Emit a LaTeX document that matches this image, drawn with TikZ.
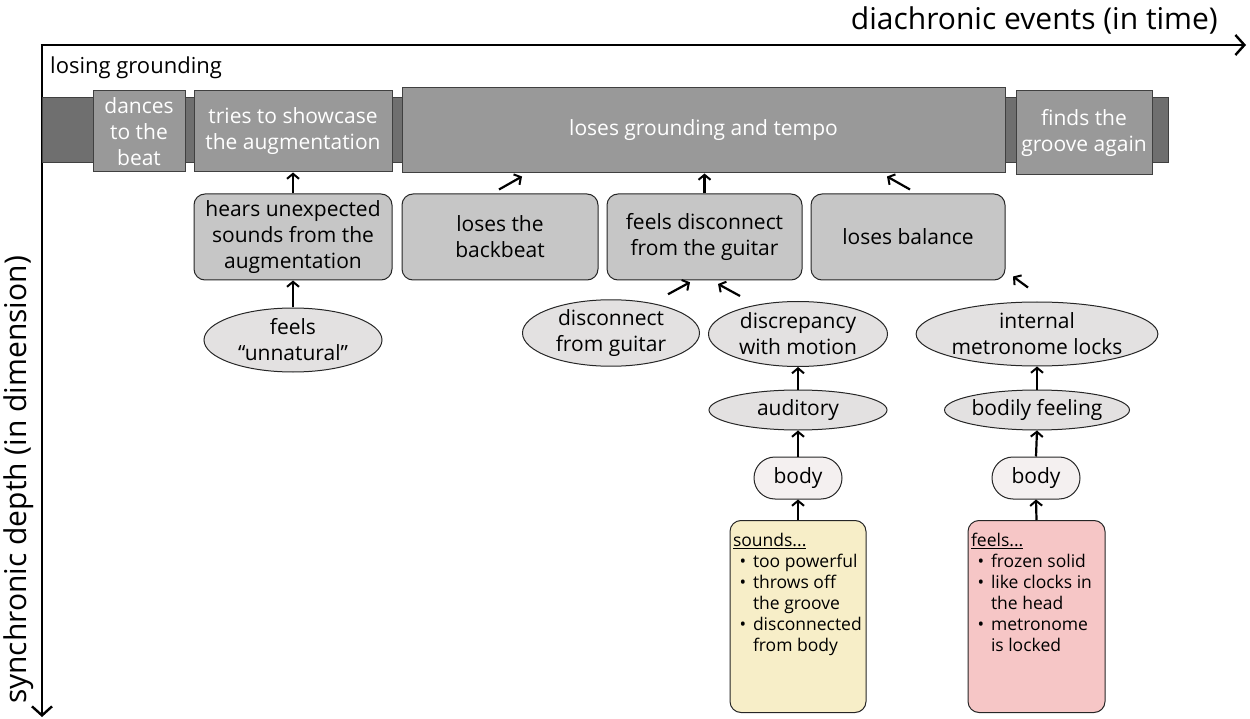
\documentclass[tikz,border=0pt]{standalone}
\usepackage{fontspec}
\setmainfont{Open Sans}
\usetikzlibrary{arrows.meta,shapes.geometric,shapes.misc,calc}
\definecolor{banddark}{HTML}{6F6F6F}
\definecolor{topgray}{HTML}{999999}
\definecolor{midgray}{HTML}{C6C6C6}
\definecolor{ellgray}{HTML}{E3E1E1}
\definecolor{bodyfill}{HTML}{F4F0F0}
\definecolor{yellowbox}{HTML}{F7EEC8}
\definecolor{pinkbox}{HTML}{F6C6C6}
\newcommand{\itm}[1]{\makebox[20pt][c]{\textbullet}#1}
\newcommand{\cnt}[1]{\hspace*{20pt}#1}
\begin{document}
\begin{tikzpicture}[x=1pt,y=-1pt,
  axis/.style={line width=2.6pt,-{Straight Barb[length=9pt,width=20pt,line width=2.4pt]}},
  conn/.style={line width=2.2pt,-{Straight Barb[length=5pt,width=12pt,line width=2pt]}},
  bandstyle/.style={draw=black!75,line width=0.8pt,fill=banddark,inner sep=0pt},
  boxfont/.style={font=\fontsize{21}{26}\selectfont},
  topbox/.style={boxfont,draw=black!75,line width=1pt,fill=topgray,text=white,align=center,inner sep=0pt},
  midbox/.style={boxfont,draw=black!85,line width=1pt,fill=midgray,rounded corners=11pt,align=center,inner sep=0pt},
  ell/.style={boxfont,ellipse,draw=black!85,line width=1pt,fill=ellgray,align=center,inner sep=0pt},
  pill/.style={boxfont,rounded rectangle,draw=black!85,line width=1pt,fill=bodyfill,inner sep=0pt},
  notebox/.style={draw=black!85,line width=1pt,rounded corners=11pt,inner sep=3pt,anchor=north,font=\fontsize{17.5}{21}\selectfont},
  axislabel/.style={font=\fontsize{30}{34}\selectfont,inner sep=0pt}]
\useasboundingbox (0,0) rectangle (1250,719);
% axes
\coordinate (origin) at (42,45);
\coordinate (xend) at (1246,45);
\coordinate (yend) at (42,717);
\draw[axis] ($(origin)+(-1.3,0)$) -- (xend);
\draw[axis] (origin) -- (yend);
\node[axislabel,anchor=east] (xlab) at (1218,20) {diachronic events (in time)};
\node[axislabel,rotate=90] (ylab) at (19,480) {synchronic depth (in dimension)};
\node[anchor=west,inner sep=0pt,font=\fontsize{22}{26}\selectfont] (losing) at (50,68) {losing grounding};
% band and top boxes
\node[bandstyle,minimum width=1126pt,minimum height=65pt] (band) at (605,129.5) {};
\node[topbox,minimum width=92pt,minimum height=81pt] (dances) at (139,131.5) {dances\\to the\\beat};
\node[topbox,minimum width=198pt,minimum height=81pt] (tries) at (293,131.5) {tries to showcase\\the augmentation};
\node[topbox,minimum width=603pt,minimum height=85pt] (tempo) at (703.5,130.5) {loses grounding and tempo};
\node[topbox,minimum width=136pt,minimum height=84pt] (finds) at (1084,133) {finds the\\groove again};
% middle row
\node[midbox,minimum width=198pt,minimum height=86pt] (hears) at (293,237) {hears unexpected\\sounds from the\\augmentation};
\node[midbox,minimum width=196pt,minimum height=86pt] (backbeat) at (500,237) {loses the\\backbeat};
\node[midbox,minimum width=195pt,minimum height=86pt] (disc) at (704.5,237) {feels disconnect\\from the guitar};
\node[midbox,minimum width=194pt,minimum height=86pt] (balance) at (908,237) {loses balance};
% ellipses
\node[ell,minimum width=178pt,minimum height=64pt] (unnatural) at (293,340) {feels\\“unnatural”};
\node[ell,minimum width=177pt,minimum height=65pt] (dguitar) at (611,333) {disconnect\\from guitar};
\node[ell,minimum width=179pt,minimum height=65pt] (discrep) at (798,334) {discrepancy\\with motion};
\node[ell,minimum width=180pt,minimum height=64pt] (metro) at (1037,334) {internal\\metronome locks};
\node[ell,minimum width=178pt,minimum height=40pt] (auditory) at (798,410) {auditory};
\node[ell,minimum width=178pt,minimum height=40pt] (bodily) at (1037,410) {bodily feeling};
\node[pill,minimum width=88pt,minimum height=42pt] (body1) at (798,478) {body};
\node[pill,minimum width=88pt,minimum height=42pt] (body2) at (1036,478) {body};
% note boxes
\node[notebox,fill=yellowbox,minimum width=136pt,minimum height=192pt] (sounds) at (798,520)
  {\parbox[t][184pt][t]{130pt}{\vspace*{9pt}\raggedright\underline{sounds...}\\\itm{too powerful}\\\itm{throws off}\\\cnt{the groove}\\\itm{disconnected}\\\cnt{from body}}};
\node[notebox,fill=pinkbox,minimum width=137pt,minimum height=192pt] (feels) at (1036.5,520)
  {\parbox[t][184pt][t]{131pt}{\vspace*{9pt}\raggedright\underline{feels...}\\\itm{frozen solid}\\\itm{like clocks in}\\\cnt{the head}\\\itm{metronome}\\\cnt{is locked}}};
% connectors
\draw[conn] (hears.north) -- (tries.south);
\draw[conn] (unnatural.north) -- (hears.south);
\draw[conn] (disc.north) -- (disc.north |- tempo.south);
\draw[conn] ($(backbeat.north)+(-1,-4)$) -- ++(23,-13) coordinate (bbtip);
\draw[conn] ($(balance.north)+(2,-4)$) -- ++(-23,-13) coordinate (baltip);
\draw[conn] ($(dguitar.north)+(57,-5)$) -- ++(22,-12) coordinate (dgtip);
\draw[conn] ($(discrep.north)+(-58,-5)$) -- ++(-22,-12) coordinate (dctip);
\draw[conn] ($(metro.north)+(-9,-14)$) -- ++(-15,-11) coordinate (mttip);
\draw[conn] (auditory.north) -- (discrep.south);
\draw[conn] (body1.north) -- (auditory.south);
\draw[conn] (sounds.north) -- (body1.south);
\draw[conn] (bodily.north) -- (metro.south);
\draw[conn] (body2.north) -- (bodily.south);
\draw[conn] (feels.north) -- (body2.south);
\end{tikzpicture}
\end{document}
